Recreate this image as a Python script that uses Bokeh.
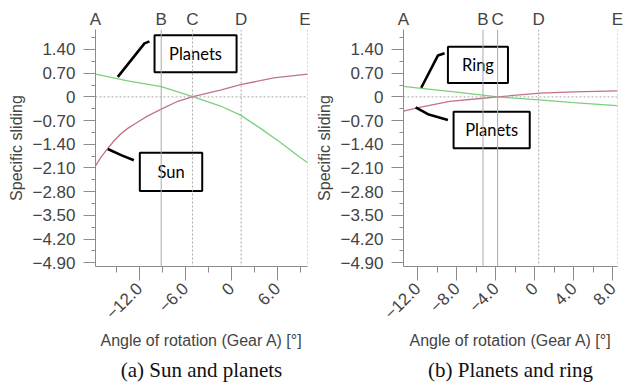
import math
from bokeh.plotting import figure
from bokeh.layouts import row
from bokeh.models import FixedTicker, LinearAxis, Span, Range1d, Title
from bokeh.embed import file_html
from bokeh.resources import INLINE
from bokeh.core.properties import value

# ---------------- data ----------------
y_ticks = [1.4, 0.7, 0.0, -0.7, -1.4, -2.1, -2.8, -3.5, -4.2, -4.9]
y_tick_labels = ["1.40", "0.70", "0", "\u22120.70", "\u22121.40", "\u22122.10",
                 "\u22122.80", "\u22123.50", "\u22124.20", "\u22124.90"]
y_minor = [1.75, 1.05, 0.35, -0.35, -1.05, -1.75, -2.45, -3.15, -3.85, -4.55]

# panel (a) Sun and planets
a_x_ticks = [-12.0, -6.0, 0.0, 6.0]
a_x_tick_labels = ["\u221212.0", "\u22126.0", "0", "6.0"]
a_x_minor = [-15.0, -9.0, -3.0, 3.0, 9.0]
a_events = [-17.7, -9.13, -5.05, 1.3, 9.95]
a_event_names = ["A", "B", "C", "D", "E"]
a_planets_x = [-17.7, -13.49, -9.13, -5.01, -1.40, 1.21, 3.82, 6.43, 9.04, 9.95]
a_planets_y = [0.67, 0.47, 0.30, 0.01, -0.27, -0.54, -0.93, -1.35, -1.80, -1.94]
a_sun_x = [-17.7, -16.96, -16.09, -15.22, -14.35, -13.49, -12.18, -10.88, -8.92,
           -6.96, -5.01, -1.40, 1.21, 5.56, 9.95]
a_sun_y = [-2.04, -1.77, -1.52, -1.28, -1.08, -0.93, -0.74, -0.56, -0.34,
           -0.13, 0.01, 0.20, 0.36, 0.56, 0.67]

# panel (b) Planets and ring
b_x_ticks = [-12.0, -8.0, -4.0, 0.0, 4.0, 8.0]
b_x_tick_labels = ["\u221212.0", "\u22128.0", "\u22124.0", "0", "4.0", "8.0"]
b_x_minor = [-10.0, -6.0, -2.0, 2.0, 6.0]
b_events = [-13.44, -5.3, -3.8, 0.4, 8.48]
b_event_names = ["A", "B", "C", "D", "E"]
b_ring_x = [-13.44, -11.62, -8.0, -3.8, 0.4, 4.0, 8.03, 8.48]
b_ring_y = [0.31, 0.25, 0.14, 0.0, -0.09, -0.17, -0.25, -0.26]
b_planets_x = [-13.44, -11.79, -8.72, -5.3, -3.8, 0.51, 4.0, 8.48]
b_planets_y = [-0.42, -0.31, -0.13, -0.04, 0.0, 0.11, 0.15, 0.18]

GREEN = "#7ccf7c"
RED = "#c27382"
GREY_TXT = "#444444"
AX_COL = "#8c8c8c"
TICK_FONT = "Liberation Sans"
FIG_H = 384
TOP = 29
FRAME_H = 238


def make_panel(width, left_border, right_border, xr, x_ticks, x_labels, x_minor,
               events, event_names, solid_events, caption):
    p = figure(width=width, height=FIG_H, x_range=Range1d(*xr), y_range=Range1d(-5.01, 1.99),
               output_backend="svg", toolbar_location=None,
               min_border_left=left_border, min_border_right=right_border,
               min_border_top=TOP, min_border_bottom=FIG_H - TOP - FRAME_H)
    p.grid.visible = False
    p.outline_line_color = None
    p.background_fill_color = "white"

    # y axis
    ya = p.yaxis[0]
    ya.ticker = FixedTicker(ticks=y_ticks, minor_ticks=y_minor)
    ya.major_label_overrides = {t: l for t, l in zip(y_ticks, y_tick_labels)}
    ya.major_tick_out = 12
    ya.major_tick_in = 0
    ya.minor_tick_out = 4
    ya.minor_tick_in = 0
    ya.axis_line_color = AX_COL
    ya.major_tick_line_color = AX_COL
    ya.minor_tick_line_color = AX_COL
    ya.major_label_text_font = TICK_FONT
    ya.major_label_text_font_size = "17px"
    ya.major_label_text_color = GREY_TXT
    ya.major_label_standoff = 8
    ya.axis_label = "Specific sliding"
    ya.axis_label_text_font = TICK_FONT
    ya.axis_label_text_font_size = "16px"
    ya.axis_label_text_font_style = "normal"
    ya.axis_label_text_color = GREY_TXT
    ya.axis_label_standoff = 4

    # x axis
    xa = p.xaxis[0]
    xa.ticker = FixedTicker(ticks=x_ticks, minor_ticks=x_minor)
    xa.major_label_overrides = {t: l for t, l in zip(x_ticks, x_labels)}
    xa.major_tick_out = 14
    xa.major_tick_in = 0
    xa.minor_tick_out = 6
    xa.minor_tick_in = 0
    xa.axis_line_color = AX_COL
    xa.major_tick_line_color = AX_COL
    xa.minor_tick_line_color = AX_COL
    xa.major_label_orientation = math.pi / 4
    xa.major_label_text_font = TICK_FONT
    xa.major_label_text_font_size = "17px"
    xa.major_label_text_color = GREY_TXT
    xa.major_label_standoff = 5
    xa.axis_label = "Angle of rotation (Gear A) [\u00b0]"
    xa.axis_label_text_font = TICK_FONT
    xa.axis_label_text_font_size = "16px"
    xa.axis_label_text_font_style = "normal"
    xa.axis_label_text_color = GREY_TXT
    xa.axis_label_standoff = 5

    # caption below the axis
    p.add_layout(Title(text=caption, align="center", text_font="Liberation Serif",
                       text_font_size="21px", text_font_style="normal",
                       text_color="#111111", standoff=6), "below")

    # top axis with event letters
    ta = LinearAxis(ticker=FixedTicker(ticks=events, minor_ticks=[]))
    ta.major_label_overrides = {t: l for t, l in zip(events, event_names)}
    ta.axis_line_color = None
    ta.major_tick_line_color = None
    ta.minor_tick_line_color = None
    ta.major_tick_out = 0
    ta.major_tick_in = 0
    ta.major_label_standoff = 1
    ta.major_label_text_font = TICK_FONT
    ta.major_label_text_font_size = "17px"
    ta.major_label_text_color = GREY_TXT
    p.add_layout(ta, "above")

    # event lines
    for ev, name in zip(events[1:], event_names[1:]):
        dash = "solid" if name in solid_events else "2 2"
        p.add_layout(Span(location=ev, dimension="height", line_color="#aaaaaa",
                          line_width=1, line_dash=dash))
    p.add_layout(Span(location=0, dimension="width", line_color="#aaaaaa",
                      line_width=1, line_dash="2 2"))
    return p


def add_note(p, box, leader_x, leader_y, text):
    l, r, t, b = box
    p.line(leader_x, leader_y, line_color="black", line_width=2.6)
    p.quad(left=[l], right=[r], top=[t], bottom=[b], fill_color="white",
           line_color="black", line_width=2)
    p.text(x=[(l + r) / 2], y=[(t + b) / 2], text=[text], text_align="center",
           text_baseline="middle", text_font=value("Lato"), text_font_size="16.5px",
           text_color="black")


pa = make_panel(310, 95, 3, (-17.7, 9.95), a_x_ticks, a_x_tick_labels, a_x_minor,
                a_events, a_event_names, ["B"], "(a) Sun and planets")
pa.line(a_planets_x, a_planets_y, line_color=GREEN, line_width=1.3)
pa.line(a_sun_x, a_sun_y, line_color=RED, line_width=1.3)
add_note(pa, (-10.0, 0.7, 1.82, 0.73), [-14.79, -11.31, -10.66], [0.59, 1.58, 1.64], "Planets")
add_note(pa, (-11.92, -3.78, -1.65, -2.78), [-16.1, -14.35, -12.7], [-1.54, -1.72, -1.87], "Sun")

pb = make_panel(313, 93, 6, (-13.44, 8.48), b_x_ticks, b_x_tick_labels, b_x_minor,
                b_events, b_event_names, ["B", "C"], "(b) Planets and ring")
pb.line(b_ring_x, b_ring_y, line_color=GREEN, line_width=1.3)
pb.line(b_planets_x, b_planets_y, line_color=RED, line_width=1.3)
add_note(pb, (-8.89, -2.74, 1.48, 0.41), [-11.62, -9.92, -9.23], [0.27, 1.22, 1.29], "Ring")
add_note(pb, (-8.31, -0.51, -0.44, -1.52), [-12.2, -10.94, -8.89], [-0.31, -0.51, -0.68], "Planets")

layout = row(pa, pb)
open("out.html", "w").write(file_html(layout, INLINE))
